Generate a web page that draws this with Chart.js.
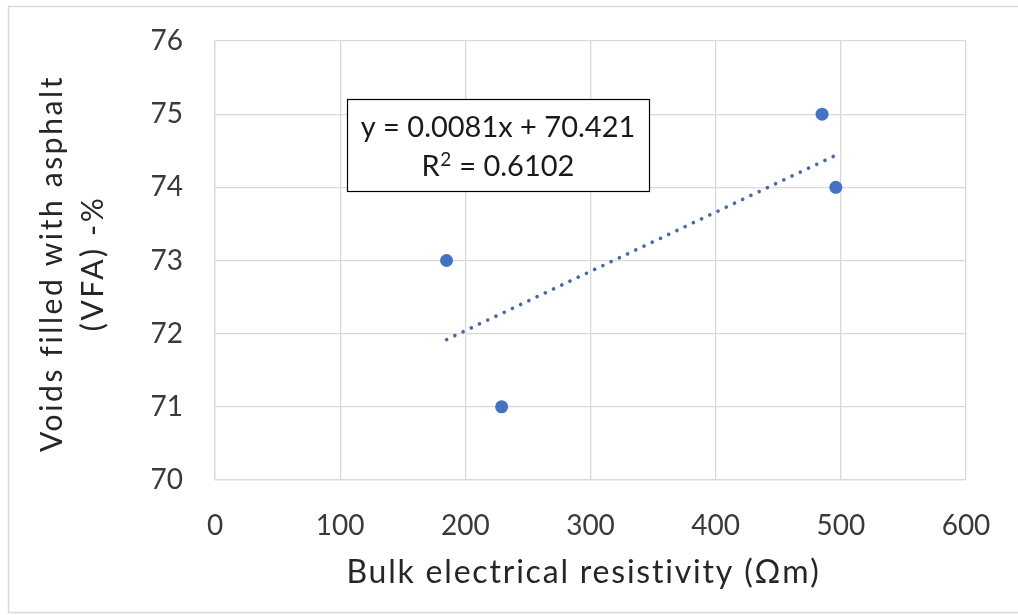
<!DOCTYPE html>
<html>
<head>
<meta charset="utf-8">
<script src="https://cdn.jsdelivr.net/npm/chart.js@4.4.1/dist/chart.umd.min.js"></script>
<style>
  html, body { margin: 0; padding: 0; background: #ffffff; }
  #wrap { width: 1018px; height: 615px; position: relative; }
</style>
</head>
<body>
<div id="wrap"><canvas id="c" width="1018" height="615"></canvas></div>
<script>
// Measured samples: bulk electrical resistivity (Ωm) vs VFA (%)
const resistivity = [185, 229, 485, 496];
const vfa = [73, 71, 75, 74];

// Linear trendline coefficients as reported on the chart
const slope = 0.0081;
const intercept = 70.421;
const rSquared = '0.6102';

const xTicks = [0, 100, 200, 300, 400, 500, 600];
const yTicks = [70, 71, 72, 73, 74, 75, 76];

const xTitle = 'Bulk electrical resistivity (Ωm)';
const yTitle = ['Voids filled with asphalt', '(VFA) -%'];

const FONT = 'Lato, "Open Sans", "Liberation Sans", sans-serif';
const GRID = '#d9d9d9';
const BLUE = '#4472C4';
const TEXT = '#262626';

const points = resistivity.map((x, i) => ({ x: x, y: vfa[i] }));
const xMin = Math.min(...resistivity);
const xMax = Math.max(...resistivity);
const trend = [xMin, xMax].map(x => ({ x: x, y: slope * x + intercept }));

// Outer chart border
const frame = {
  id: 'frame',
  beforeDraw(chart) {
    const ctx = chart.ctx;
    ctx.save();
    ctx.fillStyle = '#ffffff';
    ctx.fillRect(0, 0, chart.width, chart.height);
    ctx.strokeStyle = GRID;
    ctx.lineWidth = 1.5;
    ctx.strokeRect(8.5, 6.5, chart.width + 10, 606);
    ctx.restore();
  }
};

// Axis titles, drawn with a little tracking
const axisTitles = {
  id: 'axisTitles',
  afterDraw(chart) {
    const ctx = chart.ctx;
    const a = chart.chartArea;
    ctx.save();
    ctx.fillStyle = TEXT;
    ctx.textAlign = 'center';
    ctx.textBaseline = 'alphabetic';
    ctx.font = '32px ' + FONT;
    if ('letterSpacing' in ctx) ctx.letterSpacing = '1.8px';
    ctx.fillText(xTitle, (a.left + a.right) / 2 - 7, 583);

    ctx.font = '30px ' + FONT;
    if ('letterSpacing' in ctx) ctx.letterSpacing = '2.6px';
    const cy = (a.top + a.bottom) / 2 + 3;
    ctx.translate(0, cy);
    ctx.rotate(-Math.PI / 2);
    ctx.fillText(yTitle[0], 0, 62);
    ctx.fillText(yTitle[1], 0, 103);
    ctx.restore();
  }
};

// Trendline equation label with a raised exponent on R
const equationBox = {
  id: 'equationBox',
  afterDatasetsDraw(chart) {
    const ctx = chart.ctx;
    const a = chart.chartArea;
    const left = a.left + 132, top = a.top + 58, w = 302, h = 92;
    ctx.save();
    ctx.fillStyle = '#ffffff';
    ctx.fillRect(left, top, w, h);
    ctx.strokeStyle = '#000000';
    ctx.lineWidth = 1.2;
    ctx.strokeRect(left + 0.5, top + 0.5, w, h);
    ctx.fillStyle = '#1a1a1a';
    ctx.textBaseline = 'alphabetic';
    const cx = left + w / 2;

    ctx.font = '29px ' + FONT;
    ctx.textAlign = 'center';
    ctx.fillText('y = ' + slope + 'x + ' + intercept, cx, top + 38);

    // second line: R, superscript 2, then value
    const base = '29px ' + FONT, sup = '19px ' + FONT;
    const partR = 'R', part2 = '2', partV = ' = ' + rSquared;
    ctx.font = base;
    const wR = ctx.measureText(partR).width;
    const wV = ctx.measureText(partV).width;
    ctx.font = sup;
    const w2 = ctx.measureText(part2).width + 1;
    let x = cx - (wR + w2 + wV) / 2;
    const by = top + 77;
    ctx.textAlign = 'left';
    ctx.font = base;
    ctx.fillText(partR, x, by);
    x += wR;
    ctx.font = sup;
    ctx.fillText(part2, x + 0.5, by - 10);
    x += w2;
    ctx.font = base;
    ctx.fillText(partV, x, by);
    ctx.restore();
  }
};

new Chart(document.getElementById('c'), {
  type: 'scatter',
  data: {
    datasets: [
      {
        label: 'VFA',
        data: points,
        backgroundColor: BLUE,
        borderColor: BLUE,
        pointRadius: 6.5,
        pointHoverRadius: 6.5,
        borderWidth: 0,
        order: 2
      },
      {
        label: 'Linear trend',
        type: 'line',
        data: trend,
        borderColor: '#4868a8',
        borderWidth: 3.6,
        borderDash: [0.1, 9],
        borderCapStyle: 'round',
        pointRadius: 0,
        fill: false,
        order: 1
      }
    ]
  },
  options: {
    responsive: false,
    animation: false,
    events: [],
    layout: { padding: { left: 8, top: 41, right: 52, bottom: 0 } },
    plugins: {
      legend: { display: false },
      tooltip: { enabled: false }
    },
    scales: {
      x: {
        type: 'linear',
        min: 0,
        max: 600,
        afterBuildTicks: s => { s.ticks = xTicks.map(v => ({ value: v })); },
        afterFit: s => { s.height = 135; },
        grid: { color: GRID, lineWidth: 1.3, drawTicks: true, tickLength: 22, tickColor: 'rgba(0,0,0,0)' },
        border: { color: GRID, width: 1.3 },
        ticks: {
          padding: 7,
          color: '#3a3a3a',
          font: { family: FONT, size: 28 }
        }
      },
      y: {
        type: 'linear',
        min: 70,
        max: 76,
        afterBuildTicks: s => { s.ticks = yTicks.map(v => ({ value: v })); },
        afterFit: s => { s.width = 207; },
        grid: { color: GRID, lineWidth: 1.3, drawTicks: true, tickLength: 24, tickColor: 'rgba(0,0,0,0)' },
        border: { color: GRID, width: 1.3 },
        ticks: {
          padding: 8,
          color: '#3a3a3a',
          font: { family: FONT, size: 28 }
        }
      }
    }
  },
  plugins: [frame, equationBox, axisTitles]
});
</script>
</body>
</html>
